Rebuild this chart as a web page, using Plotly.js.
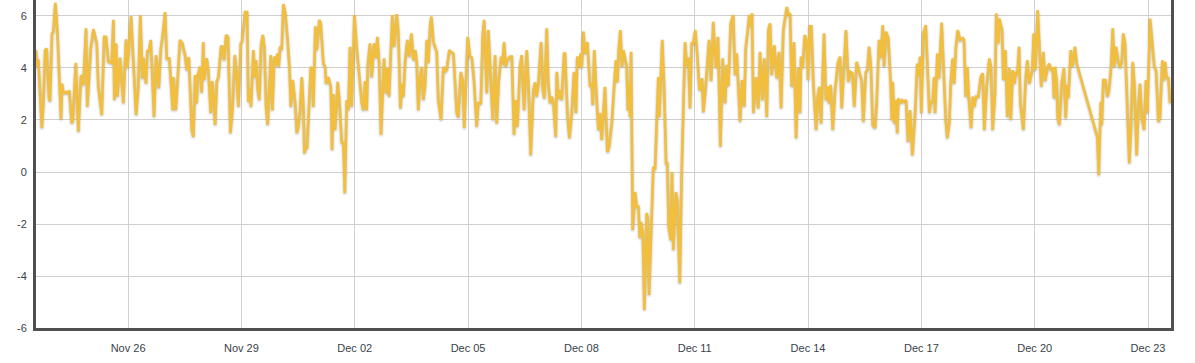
<!DOCTYPE html>
<html>
<head>
<meta charset="utf-8">
<script src="https://cdn.plot.ly/plotly-3.0.1.min.js"></script>
<style>
  html, body { margin: 0; padding: 0; background: #fff; }
  #chart { width: 1195px; height: 363px; }
  #chart .scatterlayer .trace path.js-line { filter: drop-shadow(0px 1.5px 1px rgba(0,0,0,0.28)); }
</style>
</head>
<body>
<div id="chart"></div>
<script>
// Start of the series (hours below are counted from this moment, UTC)
const startDate = "2013-11-23T00:00:00Z";

// Hours since start for each reading
const hours = [
  13.5,14.4,15.0,17.2,18.2,19.3,20.3,21.8,22.4,23.7,24.5,25.8,27.1,29.4,30.1,30.9,34.7,36.2,36.9,38.8,
  40.4,42.1,43.6,45.3,46.1,48.3,50.0,52.1,53.1,55.3,56.8,58.0,59.5,61.6,62.7,63.3,64.4,65.2,66.9,69.0,
  70.7,71.6,73.9,77.1,78.5,79.8,81.1,81.7,83.4,84.3,85.2,86.4,88.5,89.8,91.5,92.8,94.4,95.5,96.6,98.2,
  100.4,100.8,102.3,105.0,106.5,108.2,109.3,110.6,112.5,113.5,114.6,115.6,116.3,117.7,118.8,119.8,
  120.3,122.0,123.0,124.5,125.4,126.2,127.3,128.4,129.4,131.1,131.9,133.0,134.3,135.5,137.0,138.3,139.8,
  141.1,142.1,143.6,144.4,146.3,147.6,148.4,149.5,150.1,151.6,152.7,153.3,154.4,155.4,156.5,157.6,158.6,
  159.7,160.7,162.7,163.7,164.9,166.0,166.9,167.7,168.6,169.6,170.7,171.9,173.2,174.5,175.4,176.6,178.1,
  179.2,180.2,181.3,182.4,183.4,184.0,185.1,185.7,186.5,188.1,189.1,189.7,191.0,191.9,193.5,194.4,196.1,
  197.2,197.8,199.3,200.8,201.6,202.4,203.5,205.2,206.2,207.8,208.8,209.7,210.9,212.0,213.0,214.1,215.8,
  217.3,218.9,220.5,221.5,222.6,223.6,224.3,225.7,226.8,228.3,
  229.6,230.4,231.5,232.7,234.6,235.9,236.7,237.8,238.9,239.9,241.0,242.7,243.7,245.0,246.3,246.9,248.0,
  249.4,250.7,252.0,253.3,254.5,255.4,256.4,257.5,258.6,259.6,260.7,261.8,262.8,263.9,264.7,266.0,268.1,
  269.1,270.9,272.3,273.4,274.5,276.1,277.2,278.7,279.7,280.8,281.8,283.4,284.6,285.6,287.8,289.3,290.4,
  291.8,293.5,294.5,296.1,297.3,298.2,299.9,300.9,302.0,303.7,305.2,306.2,307.5,309.0,309.8,310.9,312.0,
  313.0,314.7,315.8,317.2,318.3,319.3,321.0,322.1,323.6,325.3,326.3,327.8,329.5,330.6,331.6,332.7,334.4,335.5,
  336.5,338.0,339.0,340.1,341.2,342.2,343.7,344.4,345.4,346.5,347.5,349.0,349.6,351.1,352.4,353.9,355.3,
  356.6,357.4,358.7,359.6,360.2,361.3,362.3,363.8,365.5,366.6,367.2,368.2,369.3,370.8,371.9,372.9,375.0,
  376.5,377.6,379.3,380.8,382.0,382.9,383.7,384.8,385.8,386.7,387.7,388.8,389.5,390.3,390.9,391.6,392.6,
  394.1,395.2,396.2,397.1,397.9,399.0,400.0,401.5,402.2,403.0,404.7,405.7,406.8,408.9,409.5,411.4,412.5,
  413.8,414.6,415.5,416.8,417.6,418.4,420.1,421.0,422.5,423.8,425.9,426.9,428.0,429.0,430.1,431.1,432.4,
  433.7,435.0,436.7,437.5,439.0,441.1,442.4,443.8,
  444.9,445.6,446.8,448.3,449.8,451.3,452.4,453.4,454.9,456.5,457.6,458.7,460.8,462.1,463.5,464.4,465.7,
  466.7,467.6,468.4,469.3,471.0,472.4,473.5,475.0,476.2,477.8,478.8,479.9,480.9,482.6,484.1,485.6,486.9,
  488.3,489.4,490.5,491.5,492.6,493.6,495.1,496.4,497.8,498.9,499.6,500.6,501.9,503.2,504.0,505.1,506.1,
  507.4,509.1,510.2,511.2,512.3,514.2,515.4,516.5,517.3,518.4,519.7,521.2,522.9,524.3,525.4,526.4,528.1,
  529.6,530.9,532.2,533.4,534.9,536.4,538.1,539.1,540.7,541.7,542.8,544.0,545.1,546.6,547.6,549.1,550.2,
  551.5,552.3,
  553.6,555.0,556.5,557.2,557.8,558.8,559.7,560.7,561.4,562.5,563.7,565.0,566.3,567.5,568.8,570.3,572.0,
  573.4,574.3,575.2,576.0,577.3,578.8,580.1,581.1,582.0,583.2,584.1,584.7,586.2,587.2,588.9,590.4,591.5,
  592.5,593.8,594.7,595.9,596.8,598.0,599.1,600.6,602.3,603.1,604.2,605.2,606.1,607.6,608.6,609.7,610.7,
  612.2,613.7,615.0,616.0,617.5,619.2,620.3,621.3,622.8,623.6,624.9,625.5,626.4,627.3,628.1,629.4,630.6,
  631.9,632.8,634.1,635.1,636.1,637.0,638.1,638.9,640.8,642.3,643.3,644.6,646.5,647.4,648.4,649.9,651.0,
  652.2,653.5,654.6,656.3,657.3,658.4,659.5,660.3,
  660.9,662.0,662.6,663.7,665.2,666.6,667.7,668.7,669.4,670.9,671.9,673.6,674.7,687.8,688.7,690.0,690.6,
  691.6,692.9,694.2,695.2,696.5,697.6,698.6,699.7,701.1,702.2,703.3,704.3,705.4,706.5,708.1,709.2,710.3,
  711.3,712.8,713.8,714.9,716.0,717.5,718.7,719.6,721.3,723.0,724.0,725.1,726.6,727.6,729.1,729.7,730.8,
  731.9,732.9,734.0
];

// Reading at each of those hours
const values = [
  4.69,4.05,4.33,1.69,2.65,4.69,4.75,2.83,2.72,5.33,5.4,6.51,5.4,2.03,3.4,3.05,3.1,1.87,1.99,4.2,
  1.55,3.73,3.35,5.53,2.51,4.75,5.49,4.95,3.3,2.19,5.2,5.2,4.24,4.2,5.85,2.77,4.95,2.9,4.4,2.65,
  5.1,4.0,6.0,2.19,3.28,6.04,3.6,4.4,3.4,4.69,4.62,5.08,2.12,4.5,3.22,4.72,5.46,6.15,4.37,4.37,
  2.38,3.65,2.38,5.08,4.95,4.5,3.92,4.42,1.62,1.35,3.73,2.65,3.73,4.05,3.05,5.0,
  3.54,4.38,3.9,2.27,3.5,2.96,1.81,3.5,3.65,4.82,4.82,4.3,5.27,5.2,1.49,2.38,4.5,
  3.65,2.51,4.95,5.0,6.15,6.15,2.7,3.2,2.51,4.69,3.65,4.3,3.15,2.77,4.88,5.27,4.82,
  2.51,1.81,4.5,2.38,4.44,4.12,4.56,4.05,4.82,4.69,6.46,6.1,5.2,4.05,2.51,3.54,2.7,
  1.49,1.75,2.38,3.65,2.51,0.72,0.98,0.9,1.87,4.05,3.92,2.51,5.6,4.69,5.85,5.72,4.17,
  4.05,3.4,3.65,3.28,0.85,3.0,1.62,3.47,2.77,1.1,1.15,-0.82,2.77,2.38,4.82,2.51,6.04,
  4.75,3.8,2.65,2.38,3.5,2.38,4.12,4.95,3.65,4.95,
  4.4,5.2,4.2,1.43,4.37,3.03,4.0,2.9,4.69,6.04,4.82,6.07,5.4,2.45,3.4,2.9,4.24,
  5.08,4.44,5.33,4.3,4.69,4.24,2.38,3.6,4.05,2.77,3.35,5.08,4.2,5.6,5.98,5.0,4.62,
  2.77,2.0,4.05,3.85,3.95,4.69,4.62,4.56,3.5,2.27,2.1,3.85,3.5,1.69,5.2,4.44,4.4,
  3.5,1.74,2.65,2.65,5.2,5.85,3.03,5.46,4.12,2.0,4.5,1.87,3.5,4.44,4.12,5.0,4.05,
  4.3,4.44,4.44,1.43,2.77,1.74,4.05,4.5,2.38,4.69,3.5,0.65,3.15,3.45,2.9,3.4,5.0,3.15,
  2.83,5.53,3.4,2.65,2.9,2.7,1.35,3.85,2.83,3.15,2.77,4.56,4.56,2.27,1.3,2.27,3.85,
  2.27,4.44,4.05,4.56,4.0,5.4,4.56,5.0,3.28,3.4,2.58,4.69,3.28,1.62,2.27,1.23,3.28,
  0.77,0.97,1.87,3.28,4.3,3.45,4.69,5.46,4.05,4.69,4.4,4.05,2.38,3.4,2.12,4.62,-2.23,
  -0.77,-1.35,-1.3,-2.54,-1.92,-2.3,-5.31,-1.58,-1.78,-4.73,-1.72,0.2,0.1,3.65,2.12,5.08,3.4,
  0.34,0.34,-2.1,-2.62,0.0,-3.0,-0.77,-1.1,-4.28,0.2,5.0,4.1,4.4,2.45,4.95,4.95,5.46,
  4.44,3.15,3.6,2.3,3.28,5.08,3.5,5.78,
  4.56,4.0,5.2,0.97,4.37,2.65,4.12,3.3,5.72,6.04,3.73,4.56,1.93,3.54,2.51,4.75,5.46,
  6.04,5.6,6.1,2.27,3.65,2.45,4.62,2.77,4.37,2.12,5.46,5.72,3.73,4.88,3.6,4.62,2.45,
  5.46,5.98,6.35,6.04,6.1,3.28,5.0,1.3,4.0,2.27,4.44,4.0,5.27,5.0,3.54,5.6,5.6,
  3.4,1.62,2.9,3.28,1.87,5.33,2.77,3.28,2.65,3.35,1.62,3.15,4.17,4.44,2.45,3.73,5.46,
  3.47,3.85,3.8,2.51,4.24,3.92,3.5,1.93,3.85,3.92,4.82,4.0,1.81,1.69,2.65,5.08,4.4,
  5.65,4.05,
  5.4,5.15,3.4,2.0,3.47,1.87,2.77,1.49,2.83,2.65,2.77,2.7,2.77,1.16,2.38,0.65,2.19,
  4.17,3.7,4.44,2.27,5.33,5.65,3.92,2.27,2.7,2.7,3.65,2.27,4.56,3.6,5.75,3.4,2.0,
  1.3,1.93,3.47,4.37,3.4,4.82,5.46,5.08,5.15,5.08,2.9,4.05,2.9,1.69,2.9,2.51,2.9,
  2.9,3.65,3.8,1.62,3.28,4.37,4.0,1.62,3.03,6.1,4.95,5.9,5.72,5.46,3.54,4.69,2.12,
  4.0,2.0,3.92,3.4,3.85,3.75,4.82,2.65,1.62,3.6,4.3,3.4,3.92,5.33,3.92,6.23,4.82,
  3.28,4.62,3.5,4.05,4.17,3.95,4.0,2.83,
  4.05,3.5,2.12,1.81,3.47,4.0,2.07,3.35,2.85,4.69,4.05,4.82,4.17,1.35,-0.12,2.7,1.81,
  3.54,3.54,2.9,3.15,4.0,5.53,4.05,4.82,4.24,4.0,4.24,5.33,4.95,2.77,0.34,1.75,4.24,
  3.4,0.65,2.45,3.4,2.12,1.62,3.54,2.27,5.9,4.82,4.05,3.92,1.93,2.1,4.3,3.5,4.24,
  3.6,3.65,2.65
];

// Axis settings (data-space)
const xRangeHours = [13.5, 734.6];
const yRange = [-6, 6.615];
const yTicks = [-6, -4, -2, 0, 2, 4, 6];
const firstXTick = "2013-11-26";

const base = Date.parse(startDate);
const toDate = h => new Date(base + h * 3600000).toISOString().replace("T", " ").replace("Z", "");

const trace = {
  x: hours.map(toDate),
  y: values,
  type: "scatter",
  mode: "lines",
  line: { color: "#f1be3e", width: 2.6, shape: "linear" },
  hoverinfo: "x+y"
};

const layout = {
  width: 1195,
  height: 363,
  margin: { l: 36, r: 24, t: 0, b: 35, pad: 0 },
  paper_bgcolor: "#ffffff",
  plot_bgcolor: "#ffffff",
  showlegend: false,
  font: { family: "Liberation Sans, Arial, Helvetica, sans-serif", size: 11, color: "#444" },
  xaxis: {
    type: "date",
    range: xRangeHours.map(toDate),
    tick0: firstXTick,
    dtick: 3 * 86400000,
    tickformat: "%b %d",
    showgrid: true,
    gridcolor: "#d0d0d0",
    gridwidth: 1,
    zeroline: false,
    showline: true,
    linecolor: "#505050",
    linewidth: 3,
    ticks: "",
    ticklabelstandoff: 8,
    tickfont: { size: 11, color: "#3a3f4a" }
  },
  yaxis: {
    range: yRange,
    tickvals: yTicks,
    ticktext: yTicks.map(String),
    showgrid: true,
    gridcolor: "#d0d0d0",
    gridwidth: 1,
    zeroline: false,
    showline: true,
    mirror: true,
    linecolor: "#505050",
    linewidth: 3,
    ticks: "",
    ticklabelstandoff: 4,
    tickfont: { size: 11, color: "#3a3f4a" }
  }
};

Plotly.newPlot("chart", [trace], layout, { displayModeBar: false, staticPlot: true });
</script>
</body>
</html>
